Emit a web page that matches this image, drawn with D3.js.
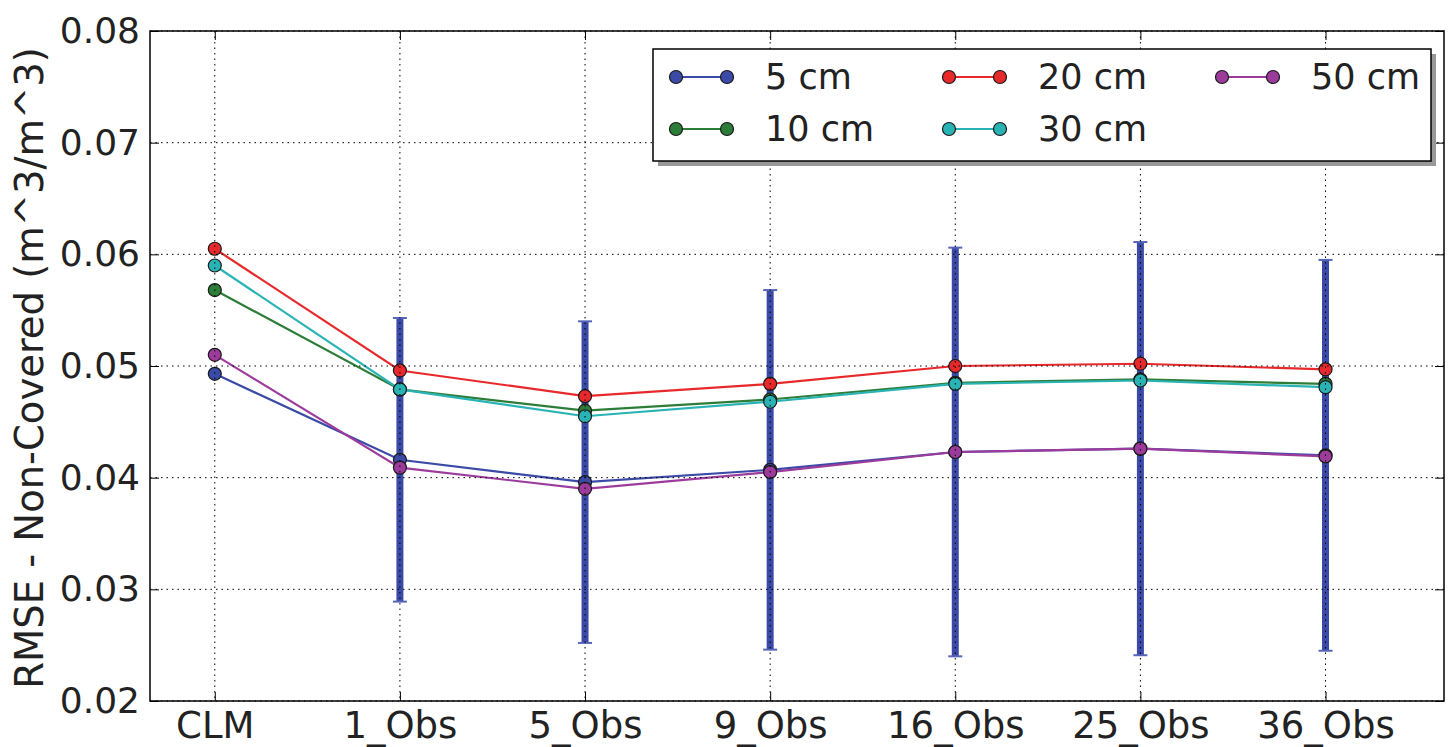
<!DOCTYPE html>
<html>
<head>
<meta charset="utf-8">
<script src="https://d3js.org/d3.v7.min.js"></script>
<style>
  body { margin: 0; background: #fff; }
  text { font-family: "DejaVu Sans", sans-serif; fill: #222; }
</style>
</head>
<body>
<svg id="chart"></svg>
<script>
  // data
  var categories = ["CLM", "1_Obs", "5_Obs", "9_Obs", "16_Obs", "25_Obs", "36_Obs"];
  var cm5  = [0.0493, 0.0416, 0.0396, 0.0407, 0.0423, 0.0426, 0.0420];
  var cm10 = [0.0568, 0.0479, 0.0460, 0.0470, 0.0485, 0.0488, 0.0484];
  var cm20 = [0.0605, 0.0496, 0.0473, 0.0484, 0.0500, 0.0502, 0.0497];
  var cm30 = [0.0590, 0.0479, 0.0455, 0.0468, 0.0484, 0.0487, 0.0481];
  var cm50 = [0.0510, 0.0409, 0.0390, 0.0405, 0.0423, 0.0426, 0.0419];
  // error bar half-widths on the 5 cm series (none for CLM)
  var err5 = [null, 0.0127, 0.0144, 0.0161, 0.0183, 0.0185, 0.0175];
  var yTicks = [0.02, 0.03, 0.04, 0.05, 0.06, 0.07, 0.08];

  var series = [
    {name: "5 cm",  values: cm5,  color: "#3a4aa6"},
    {name: "10 cm", values: cm10, color: "#2b7d38"},
    {name: "20 cm", values: cm20, color: "#e8292b"},
    {name: "30 cm", values: cm30, color: "#2ab3b5"},
    {name: "50 cm", values: cm50, color: "#9c3b9c"}
  ];

  var width = 1451, height = 747;
  var plotL = 150, plotR = 1444, plotT = 31, plotB = 701;

  var svg = d3.select("#chart").attr("width", width).attr("height", height);

  var x = d3.scaleLinear().domain([-0.35, 6.64]).range([plotL, plotR]);
  var y = d3.scaleLinear().domain([0.02, 0.08]).range([plotB, plotT]);

  // error bars
  var eb = svg.append("g");
  categories.forEach(function (c, i) {
    if (err5[i] == null) return;
    var lo = cm5[i] - err5[i], hi = cm5[i] + err5[i];
    eb.append("line")
      .attr("x1", x(i)).attr("x2", x(i))
      .attr("y1", y(lo)).attr("y2", y(hi))
      .attr("stroke", "#3a4aa6").attr("stroke-width", 7);
    [lo, hi].forEach(function (v) {
      eb.append("line")
        .attr("x1", x(i) - 7).attr("x2", x(i) + 7)
        .attr("y1", y(v)).attr("y2", y(v))
        .attr("stroke", "#5566b8").attr("stroke-width", 2);
    });
  });

  // lines
  var line = d3.line()
    .x(function (d, i) { return x(i); })
    .y(function (d) { return y(d); });

  series.forEach(function (s) {
    svg.append("path")
      .datum(s.values)
      .attr("d", line)
      .attr("fill", "none")
      .attr("stroke", s.color)
      .attr("stroke-width", 2.2);
    svg.append("g").selectAll("circle")
      .data(s.values)
      .enter().append("circle")
      .attr("cx", function (d, i) { return x(i); })
      .attr("cy", function (d) { return y(d); })
      .attr("r", 6.5)
      .attr("fill", s.color)
      .attr("stroke", "#1a1a1a")
      .attr("stroke-width", 1.2);
  });

  // grid (drawn on top, like the original)
  var grid = svg.append("g")
    .attr("stroke", "#000").attr("stroke-width", 1).attr("stroke-dasharray", "1.5,4");
  categories.forEach(function (c, i) {
    grid.append("line").attr("x1", x(i)).attr("x2", x(i)).attr("y1", plotT).attr("y2", plotB);
  });
  yTicks.forEach(function (t) {
    grid.append("line").attr("x1", plotL).attr("x2", plotR).attr("y1", y(t)).attr("y2", y(t));
  });

  // axes with inward ticks
  var xAxis = d3.axisBottom(x)
    .tickValues(d3.range(categories.length))
    .tickFormat(function (d) { return categories[d]; })
    .tickSizeInner(-9).tickSizeOuter(0).tickPadding(11);
  var gx = svg.append("g").attr("transform", "translate(0," + plotB + ")").call(xAxis);
  gx.select(".domain").remove();
  gx.selectAll("text").style("font-size", "37px").attr("fill", "#222");

  var xTop = d3.axisTop(x).tickValues(d3.range(categories.length))
    .tickFormat("").tickSizeInner(-9).tickSizeOuter(0);
  svg.append("g").attr("transform", "translate(0," + plotT + ")").call(xTop)
    .select(".domain").remove();

  var yAxis = d3.axisLeft(y).tickValues(yTicks)
    .tickFormat(d3.format(".2f"))
    .tickSizeInner(-9).tickSizeOuter(0).tickPadding(10);
  var gy = svg.append("g").attr("transform", "translate(" + plotL + ",0)").call(yAxis);
  gy.select(".domain").remove();
  gy.selectAll("text").style("font-size", "36px").attr("fill", "#222");

  var yRight = d3.axisRight(y).tickValues(yTicks).tickFormat("")
    .tickSizeInner(-9).tickSizeOuter(0);
  svg.append("g").attr("transform", "translate(" + plotR + ",0)").call(yRight)
    .select(".domain").remove();

  svg.selectAll(".tick line").attr("stroke", "#000").attr("stroke-width", 1);

  // frame
  svg.append("rect")
    .attr("x", plotL).attr("y", plotT)
    .attr("width", plotR - plotL).attr("height", plotB - plotT)
    .attr("fill", "none").attr("stroke", "#000").attr("stroke-width", 1.5);

  // y label
  svg.append("text")
    .attr("transform", "translate(43," + ((plotT + plotB) / 2 + 2) + ") rotate(-90)")
    .attr("text-anchor", "middle")
    .style("font-size", "38.5px")
    .text("RMSE - Non-Covered (m^3/m^3)");

  // legend
  var lg = svg.append("g");
  var lx = 653, ly = 49, lw = 778, lh = 112;
  lg.append("rect").attr("x", lx + 5).attr("y", ly + 5).attr("width", lw).attr("height", lh)
    .attr("fill", "#999");
  lg.append("rect").attr("x", lx).attr("y", ly).attr("width", lw).attr("height", lh)
    .attr("fill", "#fff").attr("stroke", "#000").attr("stroke-width", 1.5);

  var colX = [676, 949, 1222];
  var rowY = [77, 129];
  series.forEach(function (s, k) {
    var cx = colX[Math.floor(k / 2)], cy = rowY[k % 2];
    lg.append("line").attr("x1", cx).attr("x2", cx + 51).attr("y1", cy).attr("y2", cy)
      .attr("stroke", s.color).attr("stroke-width", 2.2);
    [cx, cx + 51].forEach(function (px) {
      lg.append("circle").attr("cx", px).attr("cy", cy).attr("r", 6.5)
        .attr("fill", s.color).attr("stroke", "#1a1a1a").attr("stroke-width", 1.2);
    });
    lg.append("text").attr("x", cx + 89).attr("y", cy + 12)
      .style("font-size", "35px").text(s.name);
  });
</script>
</body>
</html>
